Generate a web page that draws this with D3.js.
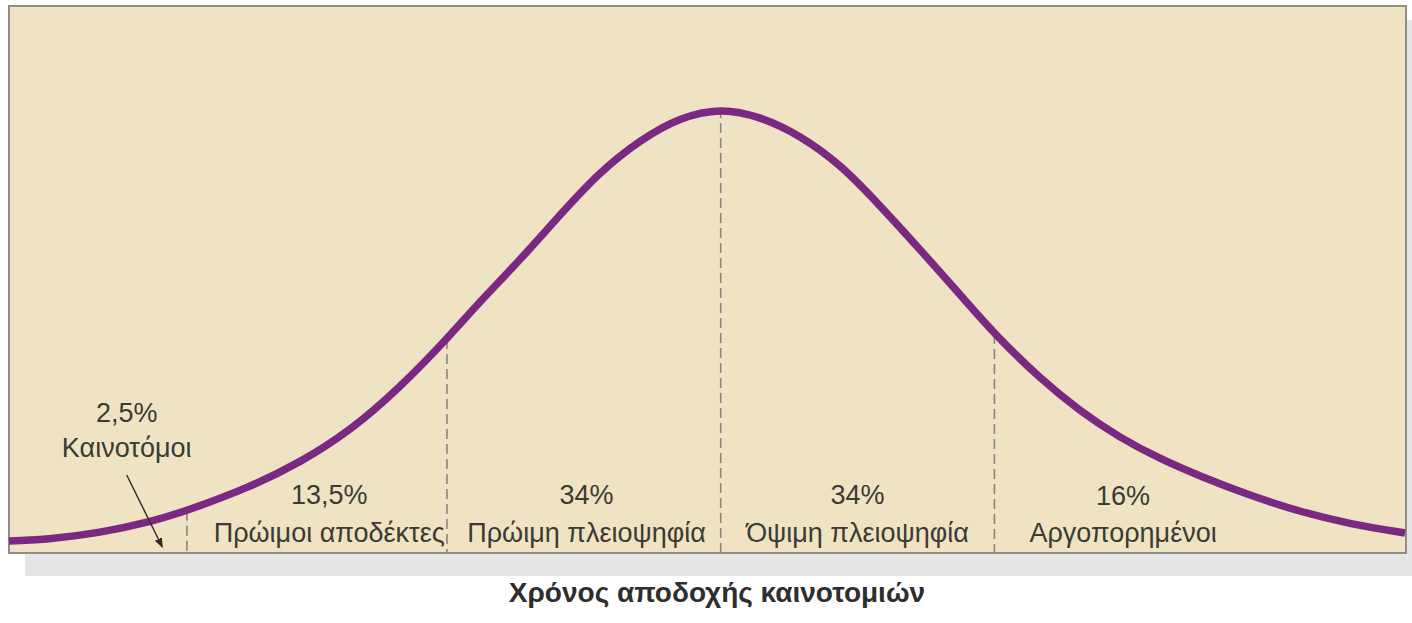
<!DOCTYPE html>
<html>
<head>
<meta charset="utf-8">
<script src="https://cdn.jsdelivr.net/npm/d3@7"></script>
<style>
    body { margin: 0; background: #ffffff; }
    svg text { font-family: "Liberation Sans", Arial, sans-serif; fill: #3b3a35; }
</style>
</head>
<body>
<div id="the_chart"></div>
<script>
// time of adoption, in standard deviations from the mean
var timeSd = [-2.60, -2.45, -2.27, -2.08, -1.94, -1.72, -1.54, -1.35, -1.17, -1.00,
    -0.88, -0.73, -0.59, -0.44, -0.29, -0.15, 0.00, 0.14, 0.29, 0.44, 0.58, 0.73,
    0.87, 1.00, 1.17, 1.31, 1.46, 1.61, 1.75, 1.93, 2.12, 2.30, 2.50];
// relative number of adopters (peak = 100)
var adopters = [2.7, 3.1, 4.5, 7.0, 9.7, 14.8, 20.2, 27.6, 37.3, 48.1,
    56.5, 66.0, 75.8, 85.8, 93.0, 97.9, 100, 98.2, 93.9, 87.2, 78.2, 68.1,
    58.4, 49.2, 39.0, 32.0, 25.8, 21.0, 17.3, 13.0, 9.2, 6.5, 4.5];

// group boundaries (dashed lines)
var boundaries = [-1.95, -1.00, 0.00, 1.00];

// group labels: centre of each group and its two text lines
var groupCentre = [-2.17, -1.43, -0.49, 0.50, 1.47];
var groupShare = ["2,5%", "13,5%", "34%", "34%", "16%"];
var groupName = ["Καινοτόμοι", "Πρώιμοι αποδέκτες", "Πρώιμη πλειοψηφία", "Όψιμη πλειοψηφία", "Αργοπορημένοι"];

var axisTitle = "Χρόνος αποδοχής καινοτομιών";

var data = timeSd.map((t, i) => ({ t: t, v: adopters[i] }));

var w = 1412, h = 623;
var panel = { left: 9, top: 6, right: 1406, bottom: 553 };

var xscale = d3.scaleLinear()
    .domain([-2.6, 2.5])
    .range([panel.left, panel.right - 1]);

var yscale = d3.scaleLinear()
    .domain([0, 100])
    .range([panel.bottom, 108]);

var svg = d3.select("#the_chart")
    .append("svg")
    .attr("width", w)
    .attr("height", h);

// drop shadow of the panel
svg.append("rect")
    .attr("x", 25)
    .attr("y", 20)
    .attr("width", w - 25)
    .attr("height", 556)
    .attr("fill", "#e5e6e8");

// beige panel
svg.append("rect")
    .attr("x", panel.left)
    .attr("y", panel.top)
    .attr("width", panel.right - panel.left)
    .attr("height", panel.bottom - panel.top)
    .attr("fill", "#efe3c4")
    .attr("stroke", "#8e8d86")
    .attr("stroke-width", 2);

var curve = d3.line()
    .x(d => xscale(d.t))
    .y(d => yscale(d.v))
    .curve(d3.curveBasis);

// value of the curve at a given time, for where the dashed lines start
var lookup = d3.scaleLinear().domain(timeSd).range(adopters);

svg.selectAll("line.boundary")
    .data(boundaries)
    .enter()
    .append("line")
    .attr("class", "boundary")
    .attr("x1", d => xscale(d))
    .attr("x2", d => xscale(d))
    .attr("y1", d => yscale(lookup(d)))
    .attr("y2", panel.bottom - 1)
    .attr("stroke", "#87867f")
    .attr("stroke-width", 1.6)
    .attr("stroke-dasharray", "10,5");

svg.append("path")
    .datum(data)
    .attr("d", curve)
    .attr("fill", "none")
    .attr("stroke", "#7b2883")
    .attr("stroke-width", 7.5);

// labels for each group
var shareY = [422, 504, 504, 504, 505];
var nameY = [457, 542, 542, 542, 542];

svg.selectAll("text.share")
    .data(groupShare)
    .enter()
    .append("text")
    .attr("class", "share")
    .attr("x", (d, i) => xscale(groupCentre[i]))
    .attr("y", (d, i) => shareY[i])
    .attr("text-anchor", "middle")
    .style("font-size", "27px")
    .text(d => d);

svg.selectAll("text.name")
    .data(groupName)
    .enter()
    .append("text")
    .attr("class", "name")
    .attr("x", (d, i) => xscale(groupCentre[i]))
    .attr("y", (d, i) => nameY[i])
    .attr("text-anchor", "middle")
    .style("font-size", "27px")
    .text(d => d);

// arrow from the innovators label down to their tail
svg.append("defs")
    .append("marker")
    .attr("id", "arrow")
    .attr("viewBox", "0 0 10 10")
    .attr("refX", 9)
    .attr("refY", 5)
    .attr("markerWidth", 7)
    .attr("markerHeight", 7)
    .attr("orient", "auto")
    .append("path")
    .attr("d", "M0,1 L10,5 L0,9 Z")
    .attr("fill", "#2b2a28");

svg.append("line")
    .attr("x1", xscale(-2.17))
    .attr("y1", 475)
    .attr("x2", xscale(-2.04))
    .attr("y2", 547)
    .attr("stroke", "#2b2a28")
    .attr("stroke-width", 1.4)
    .attr("marker-end", "url(#arrow)");

svg.append("text")
    .attr("x", 717)
    .attr("y", 602)
    .attr("text-anchor", "middle")
    .style("font-size", "28px")
    .style("font-weight", "bold")
    .style("fill", "#2e2e2e")
    .text(axisTitle);
</script>
</body>
</html>
